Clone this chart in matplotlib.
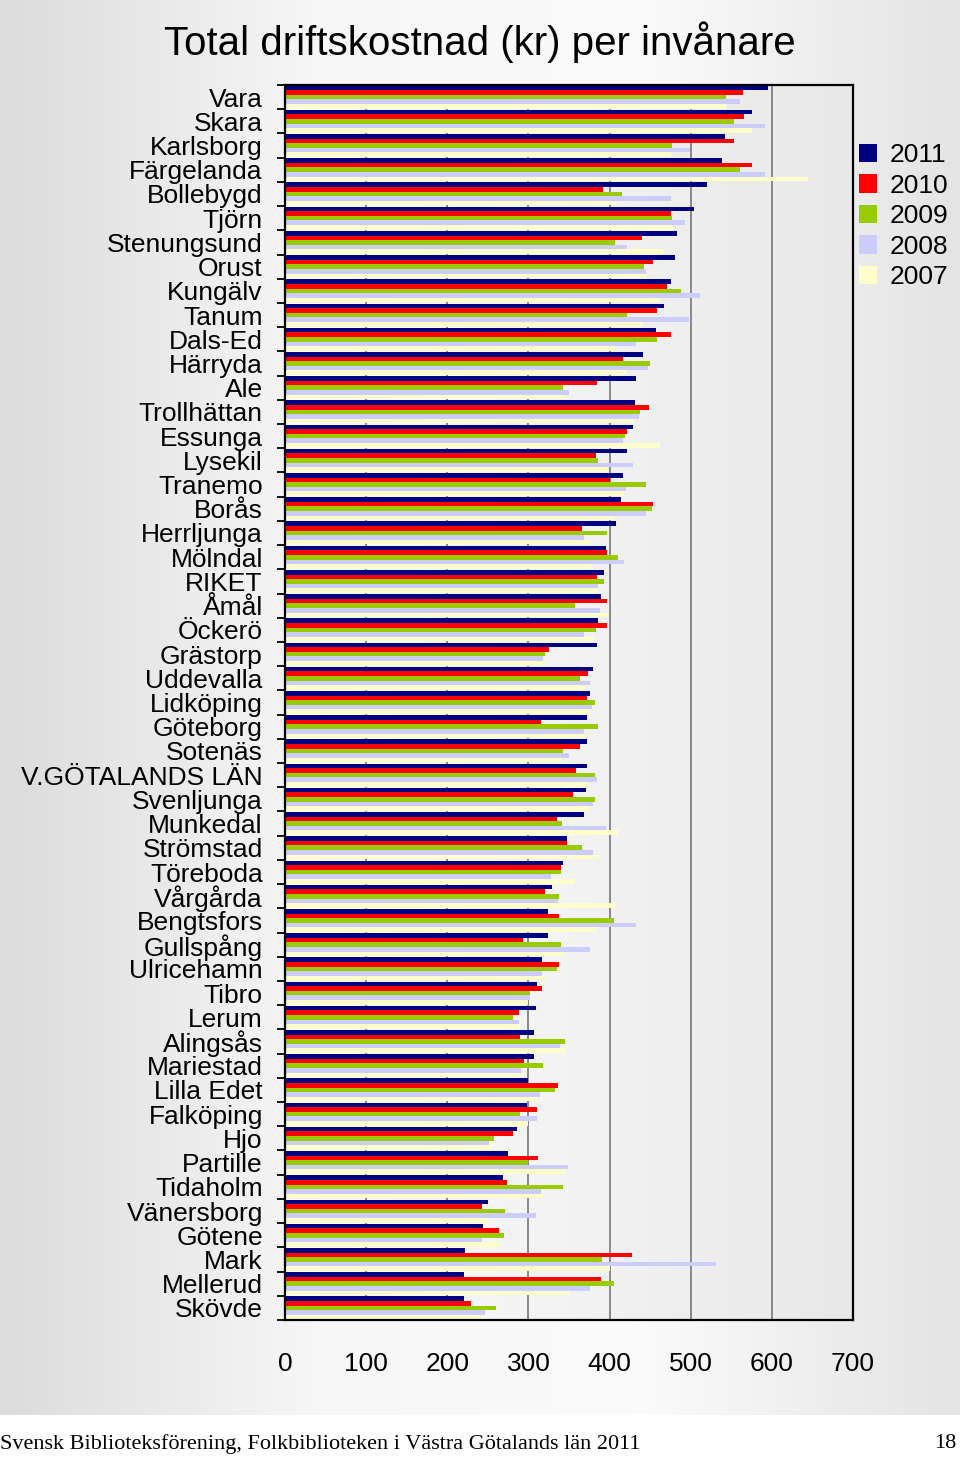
import numpy as np
import matplotlib.pyplot as plt
from matplotlib.colors import LinearSegmentedColormap
from matplotlib.patches import Patch

plt.rcParams['font.family'] = ['Liberation Sans', 'DejaVu Sans']

# Kommuner, uppifrån och ned
kommuner = ['Vara', 'Skara', 'Karlsborg', 'Färgelanda', 'Bollebygd', 'Tjörn', 'Stenungsund',
            'Orust', 'Kungälv', 'Tanum', 'Dals-Ed', 'Härryda', 'Ale', 'Trollhättan', 'Essunga',
            'Lysekil', 'Tranemo', 'Borås', 'Herrljunga', 'Mölndal', 'RIKET', 'Åmål', 'Öckerö',
            'Grästorp', 'Uddevalla', 'Lidköping', 'Göteborg', 'Sotenäs', 'V.GÖTALANDS LÄN',
            'Svenljunga', 'Munkedal', 'Strömstad', 'Töreboda', 'Vårgårda', 'Bengtsfors',
            'Gullspång', 'Ulricehamn', 'Tibro', 'Lerum', 'Alingsås', 'Mariestad', 'Lilla Edet',
            'Falköping', 'Hjo', 'Partille', 'Tidaholm', 'Vänersborg', 'Götene', 'Mark',
            'Mellerud', 'Skövde']

v2011 = [595, 576, 542, 538, 520, 504, 483, 481, 476, 467, 457, 441, 433, 431, 429, 421, 417,
         414, 408, 395, 393, 390, 386, 384, 379, 376, 372, 372, 372, 371, 369, 347, 343, 329,
         324, 324, 317, 311, 309, 307, 307, 300, 298, 286, 275, 269, 250, 244, 222, 221, 221]
v2010 = [564, 566, 553, 576, 392, 476, 440, 453, 471, 458, 476, 417, 384, 448, 422, 383, 400,
         453, 366, 397, 384, 397, 397, 325, 374, 372, 315, 364, 359, 355, 335, 347, 340, 321,
         338, 293, 338, 317, 288, 290, 294, 336, 311, 281, 312, 274, 243, 264, 428, 390, 229]
v2009 = [543, 553, 477, 561, 415, 477, 407, 443, 488, 421, 458, 450, 343, 438, 419, 386, 445,
         452, 397, 410, 393, 357, 383, 321, 364, 382, 386, 343, 382, 382, 341, 366, 340, 338,
         405, 340, 335, 302, 281, 345, 318, 333, 290, 258, 300, 343, 271, 270, 391, 405, 260]
v2008 = [561, 591, 499, 592, 476, 493, 421, 445, 512, 498, 432, 447, 350, 436, 417, 429, 420,
         445, 368, 418, 386, 388, 368, 318, 376, 378, 368, 350, 384, 379, 395, 379, 328, 336,
         433, 376, 317, 302, 288, 339, 291, 314, 311, 251, 349, 315, 309, 243, 531, 376, 247]
v2007 = [544, 576, 476, 645, 408, 478, 466, 446, 462, 440, 407, 420, 345, 430, 462, 398, 418,
         407, 376, 378, 385, 399, 381, 320, 370, 375, 370, 340, 372, 375, 410, 387, 358, 407,
         383, 345, 320, 300, 290, 345, 295, 310, 300, 255, 345, 318, 250, 265, 400, 350, 245]

years = ['2011', '2010', '2009', '2008', '2007']
series = [v2011, v2010, v2009, v2008, v2007]
colors = ['#000080', '#FF0000', '#99CC00', '#CCCCFF', '#FFFFCC']

fig = plt.figure(figsize=(9.6, 14.6), dpi=100)

# bakgrund med gradient
bg = fig.add_axes([0, 45 / 1460, 1, 1415 / 1460])
bg_cmap = LinearSegmentedColormap.from_list('bg', ['#dcdcdc', '#f7f7f7', '#fbfbfb', '#e4e4e4'])
bg.imshow(np.linspace(0, 1, 256)[None, :], aspect='auto', cmap=bg_cmap, extent=[0, 1, 0, 1])
bg.set_axis_off()

ax = fig.add_axes([285 / 960, 140 / 1460, 568 / 960, 1235 / 1460])
pa_cmap = LinearSegmentedColormap.from_list('pa', ['#fbfbfb', '#f3f3f3', '#e8e8e8'])
ax.imshow(np.linspace(0, 1, 256)[None, :], aspect='auto', cmap=pa_cmap,
          extent=[0, 1, 0, 1], transform=ax.transAxes, zorder=0)

n = len(kommuner)
y = np.arange(n)
h = 0.19
for k, (vals, c) in enumerate(zip(series, colors)):
    ax.barh(y + (k - 2) * h, vals, height=h, color=c, zorder=2, label=years[k])

ax.set_xlim(0, 700)
ax.set_ylim(n - 0.5, -0.5)
ax.set_xticks(np.arange(0, 701, 100))
ax.xaxis.grid(True, color='#808080', lw=1.3, zorder=1)
ax.set_axisbelow(True)
ax.tick_params(axis='x', length=0, pad=23, labelsize=19)
ax.set_yticks(y)
ax.set_yticklabels(kommuner)
ax.tick_params(axis='y', which='major', length=0, pad=16, labelsize=19)
ax.set_yticks(np.arange(n + 1) - 0.5, minor=True)
ax.tick_params(axis='y', which='minor', length=6, width=1.3, direction='out')
for s in ax.spines.values():
    s.set_linewidth(1.6)

fig.text(0.5, 1 - 42 / 1460, 'Total driftskostnad (kr) per invånare',
         ha='center', va='center', fontsize=29)

handles = [Patch(facecolor=c, edgecolor='none') for c in colors]
fig.legend(handles, years, loc='upper left', bbox_to_anchor=(859 / 960, 1 - 143 / 1460),
           frameon=False, fontsize=19, handlelength=0.7, handleheight=0.7,
           handletextpad=0.45, labelspacing=0.25, borderpad=0, borderaxespad=0)

fig.text(0, 1 - 1444 / 1460,
         'Svensk Biblioteksförening, Folkbiblioteken i Västra Götalands län 2011',
         family=['Liberation Serif', 'DejaVu Serif'], fontsize=16, va='center', ha='left')
fig.text(956 / 960, 1 - 1444 / 1460, '18', family=['Liberation Serif', 'DejaVu Serif'],
         fontsize=16, va='center', ha='right')

fig.savefig('out.png', dpi=100)
